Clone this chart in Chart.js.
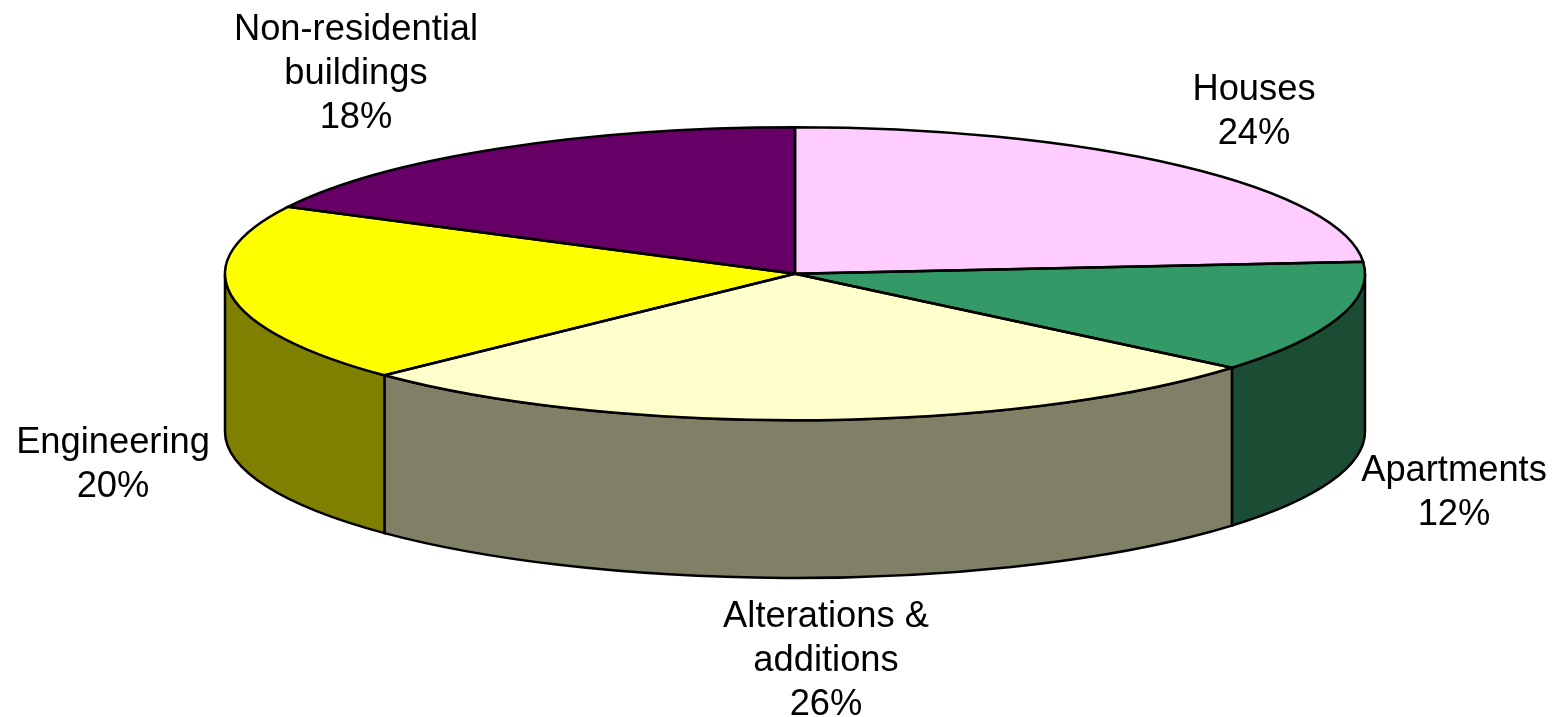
<!DOCTYPE html>
<html>
<head>
<meta charset="utf-8">
<title>Pie</title>
<script src="https://cdn.jsdelivr.net/npm/chart.js@4"></script>
<style>
  html, body { margin: 0; padding: 0; background: #fff; }
  #wrap { width: 1567px; height: 717px; }
</style>
</head>
<body>
<div id="wrap"><canvas id="pie"></canvas></div>
<script>
const categories = [['Houses'], ['Apartments'], ['Alterations &', 'additions'], ['Engineering'], ['Non-residential', 'buildings']];
// slice sizes, printed percentages are kept apart
const shares = [23.7, 12.4, 26.7, 19.75, 17.45];
const printedPercents = ['24%', '12%', '26%', '20%', '18%'];
const topColours = ['#FFCCFF', '#339966', '#FFFFCC', '#FFFF00', '#660066'];
const wallColours = ['#806680', '#1A4D33', '#808066', '#808000', '#330033'];
const labelCentres = [[1254, 90], [1454, 471], [826, 617], [113, 443], [356, 30]];

const radiusX = 570;
const squash = 146.5 / 570;
const depth = 157.8;
const lineHeight = 44;
const fontSize = 36.3;
const strokeWidth = 2.5;

// pie is drawn round, so squash the canvas around its centre while the arcs paint
const flatPie = {
  id: 'flatPie',
  beforeDatasetsDraw(chart) {
    const ctx = chart.ctx;
    const arcs = chart.getDatasetMeta(0).data;
    const cx = arcs[0].x, cy = arcs[0].y;

    // side wall first, only the front half of the ellipse shows
    arcs.forEach((arc, i) => {
      const from = Math.max(arc.startAngle, 0);
      const to = Math.min(arc.endAngle, Math.PI);
      if (to <= from) return;
      const ry = arc.outerRadius * squash;
      ctx.beginPath();
      ctx.ellipse(cx, cy, arc.outerRadius, ry, 0, from, to);
      ctx.ellipse(cx, cy + depth, arc.outerRadius, ry, 0, to, from, true);
      ctx.closePath();
      ctx.fillStyle = wallColours[i];
      ctx.fill();
      ctx.lineWidth = strokeWidth;
      ctx.strokeStyle = '#000';
      ctx.stroke();
    });

    ctx.save();
    ctx.translate(0, cy);
    ctx.scale(1, squash);
    ctx.translate(0, -cy);
  },
  afterDatasetsDraw(chart) {
    const ctx = chart.ctx;
    ctx.restore();

    // outlines here so the stroke width stays even
    const arcs = chart.getDatasetMeta(0).data;
    ctx.lineWidth = strokeWidth;
    ctx.strokeStyle = '#000';
    arcs.forEach(arc => {
      const ry = arc.outerRadius * squash;
      ctx.beginPath();
      ctx.moveTo(arc.x, arc.y);
      ctx.ellipse(arc.x, arc.y, arc.outerRadius, ry, 0, arc.startAngle, arc.endAngle);
      ctx.closePath();
      ctx.stroke();
    });

    // slice labels with the percentage on the last line
    ctx.fillStyle = '#000';
    ctx.font = fontSize + 'px "Liberation Sans", Arial, sans-serif';
    ctx.textAlign = 'center';
    ctx.textBaseline = 'middle';
    categories.forEach((lines, i) => {
      const all = lines.concat(printedPercents[i]);
      all.forEach((line, n) => {
        ctx.fillText(line, labelCentres[i][0], labelCentres[i][1] + n * lineHeight);
      });
    });
  }
};

new Chart(document.getElementById('pie'), {
  type: 'pie',
  data: {
    labels: categories.map(c => c.join(' ')),
    datasets: [{
      data: shares,
      backgroundColor: topColours,
      borderWidth: 0,
      radius: radiusX
    }]
  },
  options: {
    responsive: true,
    maintainAspectRatio: false,
    animation: false,
    layout: { padding: { left: 23, bottom: 169.6 } },
    plugins: {
      legend: { display: false },
      tooltip: { enabled: false }
    }
  },
  plugins: [flatPie]
});
</script>
</body>
</html>
